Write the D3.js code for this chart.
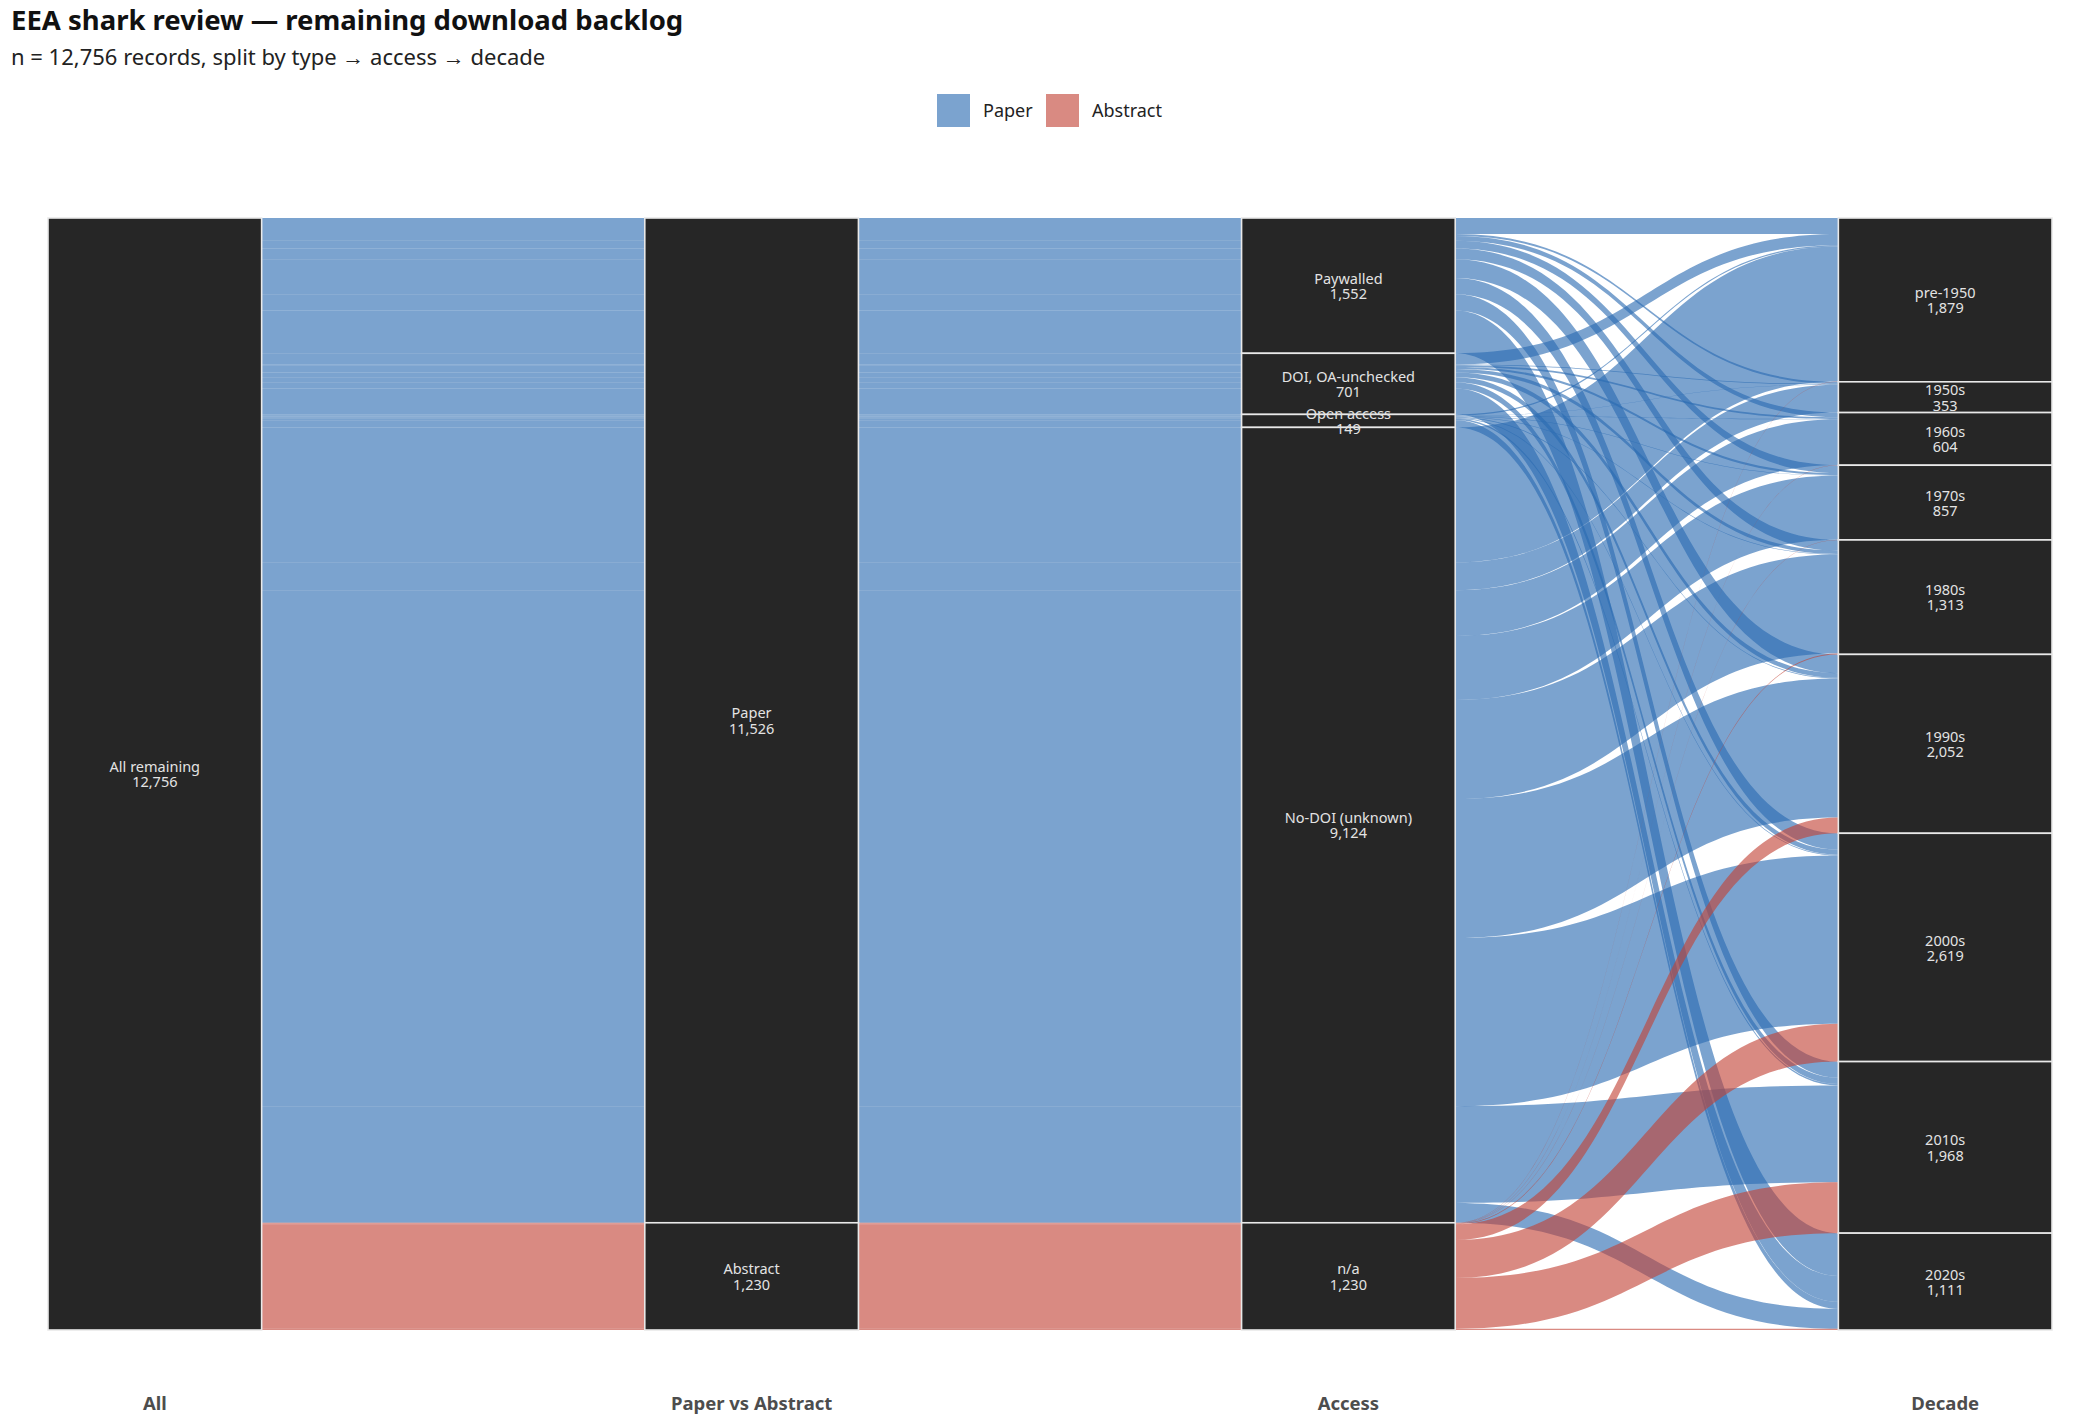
<!DOCTYPE html>
<html>
<head>
<meta charset="utf-8">
<script src="https://cdn.jsdelivr.net/npm/d3@7"></script>
<style>
  body { margin: 0; background: #fff; }
  svg { display: block; font-family: "Noto Sans", "Open Sans", sans-serif; }
</style>
</head>
<body>
<svg id="chart" width="2100" height="1425"></svg>
<script>
// axes of the alluvial plot, left to right
const axisTitles = ["All", "Paper vs Abstract", "Access", "Decade"];
const types = ["Paper", "Abstract"];
const accessLevels = ["Paywalled", "DOI, OA-unchecked", "Open access", "No-DOI (unknown)", "n/a"];
const decades = ["pre-1950", "1950s", "1960s", "1970s", "1980s", "1990s", "2000s", "2010s", "2020s"];

// records per decade, one array per access group (papers), abstracts are all n/a
const paywalled    = [184, 23, 54, 90, 122, 215, 188, 185, 491];
const doiUnchecked = [128, 8, 20, 24, 40, 54, 58, 72, 297];
const openAccess   = [15, 2, 4, 5, 6, 8, 10, 18, 81];
const noDoi        = [1548, 320, 524, 735, 1136, 1595, 1928, 1110, 228];
const abstractsNA  = [4, 0, 2, 3, 9, 180, 435, 583, 14];

const typeColors = {Paper: "#2a6ab2", Abstract: "#c24236"};
const fmt = d3.format(",");

// one alluvium per type x access x decade combination
const paperRows = [paywalled, doiUnchecked, openAccess, noDoi];
const alluvia = [];
paperRows.forEach((row, ai) => {
    row.forEach((n, di) => {
        if (n > 0) alluvia.push({type: "Paper", access: accessLevels[ai], decade: decades[di], n: n});
    });
});
abstractsNA.forEach((n, di) => {
    if (n > 0) alluvia.push({type: "Abstract", access: "n/a", decade: decades[di], n: n});
});

const total = d3.sum(alluvia, d => d.n);

const svg = d3.select("#chart");
const plot = {left: 48, right: 2052, top: 218, bottom: 1330};
const stratumWidth = 0.358;

const x = d3.scaleLinear()
    .domain([1 - stratumWidth / 2, axisTitles.length + stratumWidth / 2])
    .range([plot.left, plot.right]);
const y = d3.scaleLinear().domain([0, total]).range([plot.top, plot.bottom]);

const ti = d => types.indexOf(d.type);
const ai = d => accessLevels.indexOf(d.access);
const di = d => decades.indexOf(d.decade);

// lode order inside each axis (zigzag guidance)
const lodeKeys = [
    d => [ti(d), ai(d), di(d)],
    d => [ti(d), ai(d), di(d)],
    d => [ai(d), di(d), ti(d)],
    d => [di(d), ai(d), ti(d)]
];

function compareKeys(a, b) {
    for (let i = 0; i < a.length; i++) {
        if (a[i] !== b[i]) return a[i] - b[i];
    }
    return 0;
}

alluvia.forEach(d => { d.y0 = []; d.y1 = []; });
lodeKeys.forEach((key, axis) => {
    const sorted = alluvia.slice().sort((a, b) => compareKeys(key(a), key(b)));
    let cum = 0;
    sorted.forEach(d => {
        d.y0[axis] = y(cum);
        cum += d.n;
        d.y1[axis] = y(cum);
    });
});

// strata per axis
const strataLevels = [
    [{label: "All remaining", n: total}],
    types.map(t => ({label: t, n: d3.sum(alluvia.filter(d => d.type === t), d => d.n)})),
    accessLevels.map(a => ({label: a, n: d3.sum(alluvia.filter(d => d.access === a), d => d.n)})),
    decades.map(dc => ({label: dc, n: d3.sum(alluvia.filter(d => d.decade === dc), d => d.n)}))
];
const strata = [];
strataLevels.forEach((levels, axis) => {
    let cum = 0;
    levels.forEach(s => {
        strata.push({axis: axis, label: s.label, n: s.n, y0: y(cum), y1: y(cum + s.n)});
        cum += s.n;
    });
});

// flow path: straight through the strata, bezier between them
function alluviumPath(d) {
    const n = axisTitles.length;
    const left = i => x(i + 1 - stratumWidth / 2);
    const right = i => x(i + 1 + stratumWidth / 2);
    const p = d3.path();
    p.moveTo(left(0), d.y0[0]);
    for (let i = 0; i < n; i++) {
        p.lineTo(right(i), d.y0[i]);
        if (i < n - 1) {
            const xa = right(i), xb = left(i + 1), xm = (xa + xb) / 2;
            p.bezierCurveTo(xm, d.y0[i], xm, d.y0[i + 1], xb, d.y0[i + 1]);
        }
    }
    p.lineTo(right(n - 1), d.y1[n - 1]);
    for (let i = n - 1; i >= 0; i--) {
        p.lineTo(left(i), d.y1[i]);
        if (i > 0) {
            const xa = left(i), xb = right(i - 1), xm = (xa + xb) / 2;
            p.bezierCurveTo(xm, d.y1[i], xm, d.y1[i - 1], xb, d.y1[i - 1]);
        }
    }
    p.closePath();
    return p.toString();
}

svg.append("g")
    .selectAll("path")
    .data(alluvia)
    .join("path")
    .attr("d", alluviumPath)
    .attr("fill", d => typeColors[d.type])
    .attr("fill-opacity", 0.62);

// strata
const strataGroup = svg.append("g");
strataGroup.selectAll("rect")
    .data(strata)
    .join("rect")
    .attr("x", d => x(d.axis + 1 - stratumWidth / 2))
    .attr("y", d => d.y0)
    .attr("width", x(1 + stratumWidth / 2) - x(1 - stratumWidth / 2))
    .attr("height", d => d.y1 - d.y0)
    .attr("fill", "#262626")
    .attr("stroke", "#e9e9e9")
    .attr("stroke-width", 1.6);

const labels = strataGroup.selectAll("text")
    .data(strata)
    .join("text")
    .attr("x", d => x(d.axis + 1))
    .attr("y", d => (d.y0 + d.y1) / 2 + 1)
    .attr("text-anchor", "middle")
    .attr("fill", "#e3e3e3")
    .style("font-size", "14.5px");
labels.append("tspan")
    .attr("x", d => x(d.axis + 1))
    .attr("dy", "-0.2em")
    .text(d => d.label);
labels.append("tspan")
    .attr("x", d => x(d.axis + 1))
    .attr("dy", "1.05em")
    .text(d => fmt(d.n));

// axis titles
svg.append("g")
    .selectAll("text")
    .data(axisTitles)
    .join("text")
    .attr("x", (d, i) => x(i + 1))
    .attr("y", 1410)
    .attr("text-anchor", "middle")
    .attr("fill", "#4d4d4d")
    .style("font-size", "18.5px")
    .style("font-weight", "bold")
    .text(d => d);

// title and subtitle
svg.append("text")
    .attr("x", 11)
    .attr("y", 30)
    .attr("fill", "#111")
    .style("font-size", "27.5px")
    .style("font-weight", "bold")
    .text("EEA shark review \u2014 remaining download backlog");
svg.append("text")
    .attr("x", 11)
    .attr("y", 65)
    .attr("fill", "#222")
    .style("font-size", "22px")
    .text(`n = ${fmt(total)} records, split by type \u2192 access \u2192 decade`);

// legend
const legendItems = [{label: "Paper", x: 937}, {label: "Abstract", x: 1046}];
const legend = svg.append("g").selectAll("g")
    .data(legendItems)
    .join("g")
    .attr("transform", d => `translate(${d.x}, 94)`);
legend.append("rect")
    .attr("width", 33)
    .attr("height", 33)
    .attr("fill", d => typeColors[d.label])
    .attr("fill-opacity", 0.62);
legend.append("text")
    .attr("x", 46)
    .attr("y", 17)
    .attr("dy", "0.35em")
    .attr("fill", "#222")
    .style("font-size", "18px")
    .text(d => d.label);
</script>
</body>
</html>
